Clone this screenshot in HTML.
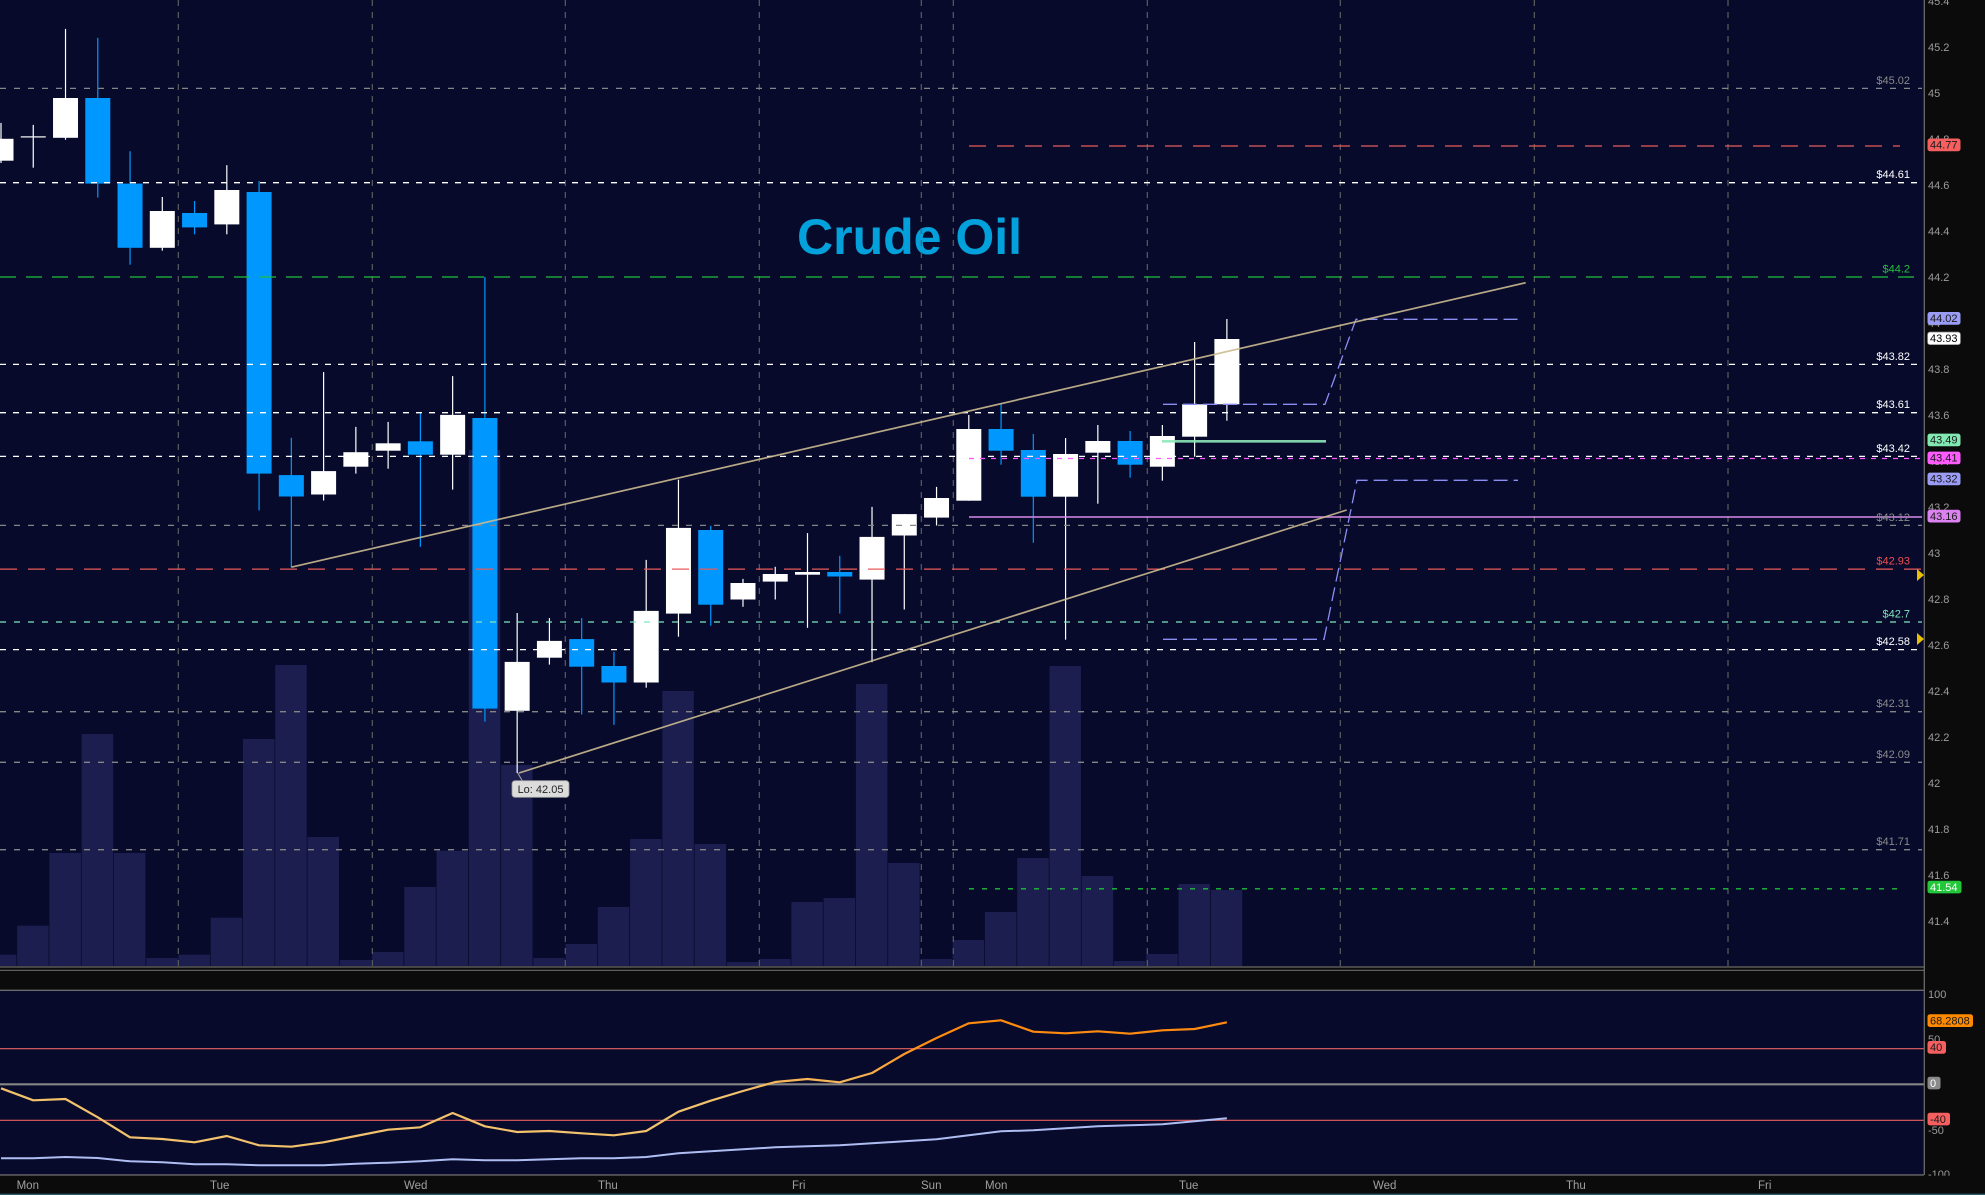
<!DOCTYPE html>
<html><head><meta charset="utf-8"><style>
html,body{margin:0;padding:0;background:#0b0b0b;}
svg{display:block;}
text{font-family:"Liberation Sans",sans-serif;}
</style></head><body>
<svg width="1985" height="1195" viewBox="0 0 1985 1195" xmlns="http://www.w3.org/2000/svg">
<defs>
<linearGradient id="og" gradientUnits="userSpaceOnUse" x1="0" y1="1092" x2="0" y2="1040">
<stop offset="0" stop-color="#f3c26c"/><stop offset="1" stop-color="#ff8a10"/>
</linearGradient>
</defs>
<rect x="0" y="0" width="1985" height="1195" fill="#0b0b0b"/>
<!-- main plot bg -->
<rect x="0" y="0" width="1924" height="966" fill="#070a2b"/>
<!-- volume -->
<g fill="#1b1e4e">
<rect x="-15.13" y="954.7" width="31.5" height="11.3"/>
<rect x="17.13" y="925.7" width="31.5" height="40.3"/>
<rect x="49.39" y="853" width="31.5" height="113"/>
<rect x="81.65" y="734" width="31.5" height="232"/>
<rect x="113.91" y="853" width="31.5" height="113"/>
<rect x="146.17" y="958" width="31.5" height="8"/>
<rect x="178.43" y="954.7" width="31.5" height="11.3"/>
<rect x="210.69" y="917.7" width="31.5" height="48.3"/>
<rect x="242.95" y="739" width="31.5" height="227"/>
<rect x="275.21" y="665" width="31.5" height="301"/>
<rect x="307.47" y="837" width="31.5" height="129"/>
<rect x="339.73" y="960" width="31.5" height="6"/>
<rect x="371.99" y="952" width="31.5" height="14"/>
<rect x="404.25" y="887" width="31.5" height="79"/>
<rect x="436.51" y="850.7" width="31.5" height="115.3"/>
<rect x="468.77" y="450" width="31.5" height="516"/>
<rect x="501.03" y="765" width="31.5" height="201"/>
<rect x="533.29" y="958" width="31.5" height="8"/>
<rect x="565.55" y="944" width="31.5" height="22"/>
<rect x="597.81" y="907" width="31.5" height="59"/>
<rect x="630.07" y="839" width="31.5" height="127"/>
<rect x="662.33" y="691" width="31.5" height="275"/>
<rect x="694.59" y="844" width="31.5" height="122"/>
<rect x="726.85" y="962" width="31.5" height="4"/>
<rect x="759.11" y="959" width="31.5" height="7"/>
<rect x="791.37" y="902" width="31.5" height="64"/>
<rect x="823.63" y="898" width="31.5" height="68"/>
<rect x="855.89" y="684" width="31.5" height="282"/>
<rect x="888.15" y="863" width="31.5" height="103"/>
<rect x="920.41" y="959" width="31.5" height="7"/>
<rect x="952.67" y="940" width="31.5" height="26"/>
<rect x="984.93" y="912" width="31.5" height="54"/>
<rect x="1017.19" y="858" width="31.5" height="108"/>
<rect x="1049.45" y="666" width="31.5" height="300"/>
<rect x="1081.71" y="876" width="31.5" height="90"/>
<rect x="1113.97" y="961" width="31.5" height="5"/>
<rect x="1146.23" y="954" width="31.5" height="12"/>
<rect x="1178.49" y="884" width="31.5" height="82"/>
<rect x="1210.75" y="890" width="31.5" height="76"/>
</g>
<!-- title -->
<text x="797" y="254" font-size="50" font-weight="bold" fill="#03a1dc">Crude Oil</text>
<!-- vertical grid -->
<g stroke="#5e5e5e" stroke-width="1.2" stroke-dasharray="6,6">
<line x1="178.3" y1="0" x2="178.3" y2="966"/>
<line x1="372.3" y1="0" x2="372.3" y2="966"/>
<line x1="565.3" y1="0" x2="565.3" y2="966"/>
<line x1="759.3" y1="0" x2="759.3" y2="966"/>
<line x1="921.3" y1="0" x2="921.3" y2="966"/>
<line x1="953.3" y1="0" x2="953.3" y2="966"/>
<line x1="1147.3" y1="0" x2="1147.3" y2="966"/>
<line x1="1340.3" y1="0" x2="1340.3" y2="966"/>
<line x1="1534.3" y1="0" x2="1534.3" y2="966"/>
<line x1="1728" y1="0" x2="1728" y2="966"/>
</g>
<!-- candles: wicks -->
<g fill="#ffffff">
<rect x="0.4" y="122.9" width="1.2" height="40.1"/>
<rect x="32.66" y="124.9" width="1.2" height="42.8"/>
<rect x="64.92" y="28.9" width="1.2" height="110.9"/>
<rect x="161.7" y="197" width="1.2" height="53.7"/>
<rect x="226.22" y="165.2" width="1.2" height="69.1"/>
<rect x="323.0" y="372.1" width="1.2" height="128.4"/>
<rect x="355.26" y="426.9" width="1.2" height="46.7"/>
<rect x="387.52" y="421.9" width="1.2" height="46.8"/>
<rect x="452.04" y="376.1" width="1.2" height="113.5"/>
<rect x="516.56" y="613" width="1.2" height="160"/>
<rect x="548.82" y="618.1" width="1.2" height="46.5"/>
<rect x="645.6" y="559.9" width="1.2" height="127.8"/>
<rect x="677.86" y="479.7" width="1.2" height="157"/>
<rect x="742.38" y="578.9" width="1.2" height="27.9"/>
<rect x="774.64" y="566.8" width="1.2" height="32.7"/>
<rect x="806.9" y="533.1" width="1.2" height="94.7"/>
<rect x="871.42" y="506.9" width="1.2" height="155.3"/>
<rect x="903.68" y="514" width="1.2" height="95.5"/>
<rect x="935.94" y="486.9" width="1.2" height="38.6"/>
<rect x="968.2" y="415" width="1.2" height="85.7"/>
<rect x="1064.98" y="438" width="1.2" height="201.7"/>
<rect x="1097.24" y="425" width="1.2" height="78.7"/>
<rect x="1161.76" y="425" width="1.2" height="55.7"/>
<rect x="1194.02" y="342" width="1.2" height="114.7"/>
<rect x="1226.28" y="319" width="1.2" height="101.7"/>
</g>
<g fill="#0098ff">
<rect x="97.18" y="37.8" width="1.2" height="159.7"/>
<rect x="129.44" y="151.2" width="1.2" height="113.5"/>
<rect x="193.96" y="201" width="1.2" height="33.3"/>
<rect x="258.48" y="181" width="1.2" height="329.4"/>
<rect x="290.74" y="437.8" width="1.2" height="129.4"/>
<rect x="419.78" y="412.9" width="1.2" height="133.9"/>
<rect x="484.3" y="277" width="1.2" height="444.6"/>
<rect x="581.08" y="618.1" width="1.2" height="96.4"/>
<rect x="613.34" y="651.9" width="1.2" height="73"/>
<rect x="710.12" y="525.8" width="1.2" height="99.9"/>
<rect x="839.16" y="555.8" width="1.2" height="57.8"/>
<rect x="1000.46" y="404.3" width="1.2" height="60.4"/>
<rect x="1032.72" y="434" width="1.2" height="108.7"/>
<rect x="1129.5" y="431" width="1.2" height="46.7"/>
</g>
<!-- bodies -->
<g fill="#ffffff">
<rect x="-11.5" y="138.8" width="25" height="21.9"/>
<rect x="20.76" y="136.3" width="25" height="1.2"/>
<rect x="53.02" y="98" width="25" height="39.8"/>
<rect x="149.8" y="211" width="25" height="36.8"/>
<rect x="214.32" y="190" width="25" height="34.4"/>
<rect x="311.1" y="471.1" width="25" height="23.4"/>
<rect x="343.36" y="452.2" width="25" height="14.5"/>
<rect x="375.62" y="443.3" width="25" height="7.4"/>
<rect x="440.14" y="414.9" width="25" height="39.8"/>
<rect x="504.66" y="661.9" width="25" height="48.9"/>
<rect x="536.92" y="640.9" width="25" height="16.8"/>
<rect x="633.7" y="610.9" width="25" height="71.6"/>
<rect x="665.96" y="527.9" width="25" height="85.7"/>
<rect x="730.48" y="583" width="25" height="16.5"/>
<rect x="762.74" y="574" width="25" height="7.6"/>
<rect x="795" y="572" width="25" height="2.7"/>
<rect x="859.52" y="536.9" width="25" height="42.7"/>
<rect x="891.78" y="514.1" width="25" height="21.4"/>
<rect x="924.04" y="498" width="25" height="19.6"/>
<rect x="956.3" y="429" width="25" height="71.7"/>
<rect x="1053.08" y="454" width="25" height="42.7"/>
<rect x="1085.34" y="441" width="25" height="11.7"/>
<rect x="1149.86" y="436" width="25" height="30.7"/>
<rect x="1182.12" y="404.3" width="25" height="32.4"/>
<rect x="1214.38" y="339" width="25" height="65.3"/>
</g>
<g fill="#0098ff">
<rect x="85.28" y="98" width="25" height="85.6"/>
<rect x="117.54" y="183.6" width="25" height="64.2"/>
<rect x="182.06" y="213" width="25" height="14.4"/>
<rect x="246.58" y="192" width="25" height="281.6"/>
<rect x="278.84" y="475.1" width="25" height="21.4"/>
<rect x="407.88" y="441.3" width="25" height="13.4"/>
<rect x="472.4" y="418" width="25" height="290.6"/>
<rect x="569.18" y="639.1" width="25" height="27.6"/>
<rect x="601.44" y="666" width="25" height="16.5"/>
<rect x="698.22" y="530" width="25" height="74.7"/>
<rect x="827.26" y="572" width="25" height="4.5"/>
<rect x="988.56" y="429" width="25" height="21.7"/>
<rect x="1020.82" y="450" width="25" height="46.7"/>
<rect x="1117.6" y="441" width="25" height="23.7"/>
</g>
<!-- horizontal levels -->
<g stroke-width="1.3" fill="none">
<line x1="0" y1="88.4" x2="1922" y2="88.4" stroke="#858585" stroke-dasharray="6,8"/>
<line x1="0" y1="182.7" x2="1922" y2="182.7" stroke="#ffffff" stroke-dasharray="6,7"/>
<line x1="0" y1="277" x2="1922" y2="277" stroke="#1fbf3a" stroke-dasharray="16,10"/>
<line x1="0" y1="364.4" x2="1922" y2="364.4" stroke="#ffffff" stroke-dasharray="6,7"/>
<line x1="0" y1="412.7" x2="1922" y2="412.7" stroke="#ffffff" stroke-dasharray="6,7"/>
<line x1="0" y1="456.4" x2="1922" y2="456.4" stroke="#ffffff" stroke-dasharray="6,7"/>
<line x1="0" y1="525.4" x2="1922" y2="525.4" stroke="#858585" stroke-dasharray="6,8"/>
<line x1="0" y1="569.1" x2="1922" y2="569.1" stroke="#e85a5a" stroke-dasharray="17,11"/>
<line x1="0" y1="622" x2="1922" y2="622" stroke="#7fe6bc" stroke-dasharray="6,8"/>
<line x1="0" y1="649.6" x2="1922" y2="649.6" stroke="#ffffff" stroke-dasharray="6,7"/>
<line x1="0" y1="711.7" x2="1922" y2="711.7" stroke="#858585" stroke-dasharray="6,8"/>
<line x1="0" y1="762.3" x2="1922" y2="762.3" stroke="#858585" stroke-dasharray="6,8"/>
<line x1="0" y1="849.7" x2="1922" y2="849.7" stroke="#858585" stroke-dasharray="6,8"/>
<line x1="969" y1="146" x2="1900" y2="146" stroke="#e85a5a" stroke-dasharray="17,11"/>
<line x1="969" y1="888.8" x2="1900" y2="888.8" stroke="#1fbf3a" stroke-dasharray="5,8"/>
<line x1="969" y1="458.5" x2="1922" y2="458.5" stroke="#ff55ff" stroke-dasharray="5,6"/>
<line x1="969" y1="517" x2="1922" y2="517" stroke="#d58ae8" stroke-width="1.4"/>
<line x1="1162" y1="441.3" x2="1326" y2="441.3" stroke="#8ee8b8" stroke-width="2.6" opacity="0.9"/>
<path d="M1163 404.3 H1325 L1356 319.3 H1518" stroke="#8c8ef2" stroke-dasharray="14,6"/>
<path d="M1163 639.3 H1324 L1357 480.3 H1518" stroke="#8c8ef2" stroke-dasharray="14,6"/>
</g>
<!-- trendlines -->
<g stroke="#cbbb90" stroke-width="1.7" opacity="0.9">
<line x1="291.3" y1="567.2" x2="1525.7" y2="282.7"/>
<line x1="519" y1="773" x2="1346.7" y2="510"/>
</g>
<!-- Lo label -->
<line x1="517.6" y1="772.7" x2="523" y2="782" stroke="#aaaaaa" stroke-width="1"/>
<rect x="512" y="780.7" width="57" height="16.6" rx="3" fill="#dcdcdc" stroke="#9a9a9a" stroke-width="0.8"/>
<text x="540.5" y="793.2" font-size="11" fill="#222" text-anchor="middle">Lo: 42.05</text>
<!-- level labels -->
<g font-size="11" text-anchor="end">
<text x="1910" y="84" fill="#8a8a8a">$45.02</text>
<text x="1910" y="178.2" fill="#ffffff">$44.61</text>
<text x="1910" y="272.5" fill="#22c43e">$44.2</text>
<text x="1910" y="359.9" fill="#ffffff">$43.82</text>
<text x="1910" y="408.2" fill="#ffffff">$43.61</text>
<text x="1910" y="451.9" fill="#ffffff">$43.42</text>
<text x="1910" y="520.9" fill="#8a8a8a">$43.12</text>
<text x="1910" y="564.6" fill="#f05050">$42.93</text>
<text x="1910" y="617.5" fill="#7fe6bc">$42.7</text>
<text x="1910" y="645.1" fill="#ffffff">$42.58</text>
<text x="1910" y="707.2" fill="#8a8a8a">$42.31</text>
<text x="1910" y="757.8" fill="#8a8a8a">$42.09</text>
<text x="1910" y="845.2" fill="#8a8a8a">$41.71</text>
</g>
<!-- separators -->
<rect x="0" y="966" width="1924" height="24" fill="#0b0b0b"/>
<line x1="0" y1="967" x2="1924" y2="967" stroke="#6a6a6a" stroke-width="1.2"/>
<line x1="0" y1="970.3" x2="1924" y2="970.3" stroke="#6a6a6a" stroke-width="1.2"/>
<!-- lower panel -->
<rect x="0" y="990" width="1924" height="185" fill="#070a2b"/>
<line x1="0" y1="990.3" x2="1924" y2="990.3" stroke="#6a6a6a" stroke-width="1.3"/>
<line x1="0" y1="1175" x2="1924" y2="1175" stroke="#6a6a6a" stroke-width="1.3"/>
<line x1="0" y1="1048.7" x2="1924" y2="1048.7" stroke="#e86060" stroke-width="1.2"/>
<line x1="0" y1="1120.3" x2="1924" y2="1120.3" stroke="#e86060" stroke-width="1.2"/>
<line x1="0" y1="1084.3" x2="1924" y2="1084.3" stroke="#858585" stroke-width="2.2"/>
<polyline fill="none" stroke="url(#og)" stroke-width="2.2" stroke-linejoin="round" points="1,1088.3 33.26,1100.3 65.52,1099 97.78,1117.3 130.04,1137.3 162.3,1139 194.56,1142.3 226.82,1136 259.08,1145.3 291.34,1146.7 323.6,1142.3 355.86,1136 388.12,1129.7 420.38,1127.3 452.64,1113 484.9,1126.3 517.16,1132 549.42,1131 581.68,1133.3 613.94,1135.3 646.2,1131 678.46,1111.7 710.72,1100.7 742.98,1091 775.24,1082 807.5,1079 839.76,1082.3 872.02,1073 904.28,1054 936.54,1038 968.8,1023.3 1001.06,1020.3 1033.32,1031.7 1065.58,1033.3 1097.84,1031.3 1130.1,1033.7 1162.36,1030.3 1194.62,1029 1226.88,1022.3"/>
<polyline fill="none" stroke="#aebdf2" stroke-width="2" stroke-linejoin="round" points="1,1158.3 33.26,1158.3 65.52,1157 97.78,1158 130.04,1161.3 162.3,1162.3 194.56,1164.3 226.82,1164.3 259.08,1165.3 291.34,1165.3 323.6,1165.3 355.86,1163.7 388.12,1162.7 420.38,1161.3 452.64,1159.3 484.9,1160.3 517.16,1160.3 549.42,1159.3 581.68,1158.3 613.94,1158.3 646.2,1157 678.46,1153.3 710.72,1151.3 742.98,1149.3 775.24,1147.3 807.5,1146.3 839.76,1145.3 872.02,1143.3 904.28,1141.3 936.54,1139.3 968.8,1135.3 1001.06,1131.3 1033.32,1130.3 1065.58,1128.3 1097.84,1126.3 1130.1,1125.3 1162.36,1124.3 1194.62,1121.3 1226.88,1118.3"/>
<!-- right axis -->
<rect x="1925" y="0" width="60" height="1195" fill="#0b0b0b"/>
<line x1="1924.3" y1="0" x2="1924.3" y2="1175" stroke="#6a6a6a" stroke-width="1.3"/>
<g font-size="11" fill="#9c9c9c">
<text x="1928" y="5">45.4</text>
<text x="1928" y="51">45.2</text>
<text x="1928" y="97">45</text>
<text x="1928" y="143">44.8</text>
<text x="1928" y="189">44.6</text>
<text x="1928" y="235">44.4</text>
<text x="1928" y="281">44.2</text>
<text x="1928" y="327">44</text>
<text x="1928" y="373">43.8</text>
<text x="1928" y="419">43.6</text>
<text x="1928" y="465">43.4</text>
<text x="1928" y="511">43.2</text>
<text x="1928" y="557">43</text>
<text x="1928" y="603">42.8</text>
<text x="1928" y="649">42.6</text>
<text x="1928" y="695">42.4</text>
<text x="1928" y="741">42.2</text>
<text x="1928" y="787">42</text>
<text x="1928" y="833">41.8</text>
<text x="1928" y="879">41.6</text>
<text x="1928" y="925">41.4</text>
<text x="1928" y="998">100</text>
<text x="1928" y="1043">50</text>
<text x="1928" y="1134">-50</text>
<text x="1928" y="1178">-100</text>
</g>
<!-- badges -->
<g font-size="11">
<rect x="1927.5" y="138.5" width="33" height="12.7" rx="2.5" fill="#f55f5f"/><text x="1930" y="148.6" fill="#1a1a1a">44.77</text>
<rect x="1927.5" y="312" width="33" height="12.7" rx="2.5" fill="#9a9cf5"/><text x="1930" y="322.1" fill="#1a1a1a">44.02</text>
<rect x="1927.5" y="332" width="33" height="12.7" rx="2.5" fill="#ffffff" stroke="#777" stroke-width="0.7"/><text x="1930" y="342.1" fill="#000">43.93</text>
<rect x="1927.5" y="433.6" width="33" height="12.7" rx="2.5" fill="#82e8b2"/><text x="1930" y="443.7" fill="#1a1a1a">43.49</text>
<rect x="1927.5" y="451.6" width="33" height="12.7" rx="2.5" fill="#ff5cff"/><text x="1930" y="461.7" fill="#1a1a1a">43.41</text>
<rect x="1927.5" y="472.6" width="33" height="12.7" rx="2.5" fill="#9a9cf5"/><text x="1930" y="482.7" fill="#1a1a1a">43.32</text>
<rect x="1927.5" y="509.8" width="33" height="12.7" rx="2.5" fill="#dc82f0"/><text x="1930" y="519.9" fill="#1a1a1a">43.16</text>
<rect x="1927.5" y="880.7" width="34" height="12.7" rx="2.5" fill="#22c83a"/><text x="1930" y="890.8" fill="#ffffff">41.54</text>
<rect x="1927.5" y="1014.3" width="45.5" height="12.7" rx="2.5" fill="#ff8a00"/><text x="1930" y="1024.4" fill="#1a1a1a">68.2808</text>
<rect x="1927.5" y="1041" width="18.5" height="12.7" rx="2.5" fill="#f55f5f"/><text x="1930" y="1051.1" fill="#1a1a1a">40</text>
<rect x="1927.5" y="1076.7" width="13" height="12.7" rx="2.5" fill="#8a8a8a"/><text x="1930" y="1086.8" fill="#ffffff">0</text>
<rect x="1927.5" y="1112.7" width="22.5" height="12.7" rx="2.5" fill="#f55f5f"/><text x="1930" y="1122.8" fill="#1a1a1a">-40</text>
</g>
<!-- yellow markers -->
<polygon points="1917,569 1924,575 1917,581" fill="#e8c000"/>
<polygon points="1917,633 1924,639 1917,645" fill="#e8c000"/>
<!-- bottom band -->
<rect x="0" y="1175.7" width="1985" height="19.3" fill="#0b0b0b"/>
<line x1="0" y1="1175" x2="1924" y2="1175" stroke="#6a6a6a" stroke-width="1.3"/>
<line x1="0" y1="1194.3" x2="1985" y2="1194.3" stroke="#2c5a68" stroke-width="1.4"/>
<g font-size="11.5" fill="#a0a0a0">
<text x="16.6" y="1189">Mon</text>
<text x="210" y="1189">Tue</text>
<text x="404" y="1189">Wed</text>
<text x="598" y="1189">Thu</text>
<text x="792" y="1189">Fri</text>
<text x="921" y="1189">Sun</text>
<text x="985" y="1189">Mon</text>
<text x="1179" y="1189">Tue</text>
<text x="1373" y="1189">Wed</text>
<text x="1566" y="1189">Thu</text>
<text x="1758" y="1189">Fri</text>
</g>
</svg>
</body></html>
